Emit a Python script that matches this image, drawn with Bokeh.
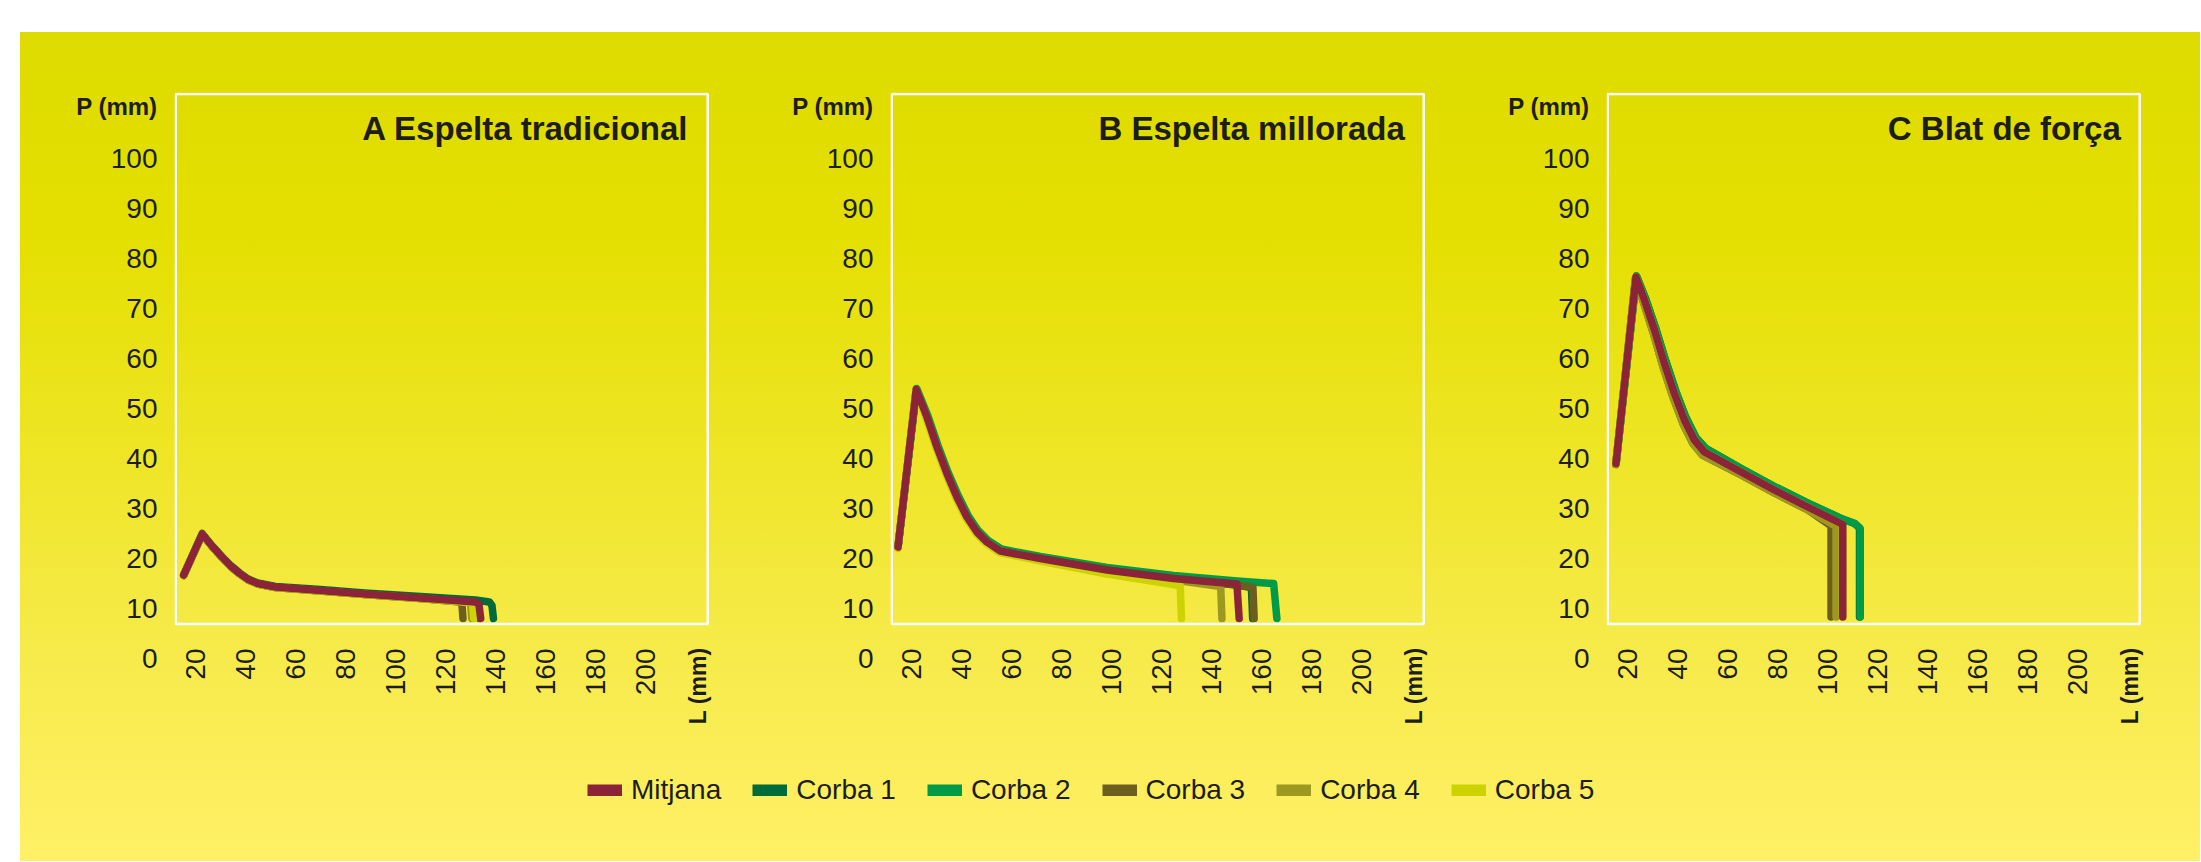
import math
from bokeh.plotting import figure
from bokeh.models import (Range1d, FixedTicker, BoxAnnotation, Legend, LegendItem, Spacer,
                          ColumnDataSource, LinearAxis, Label)
from bokeh.layouts import row, column
from bokeh.embed import file_html
from bokeh.resources import INLINE

# ---------------- data ----------------
series_names = ["Mitjana", "Corba 1", "Corba 2", "Corba 3", "Corba 4", "Corba 5"]
series_colors = ["#8B2339", "#006B3A", "#009B48", "#6B5E1F", "#9D9820", "#CCD300"]
panel_titles = ["A Espelta tradicional", "B Espelta millorada", "C Blat de força"]
x_ticks = [20, 40, 60, 80, 100, 120, 140, 160, 180, 200]
y_ticks = [0, 10, 20, 30, 40, 50, 60, 70, 80, 90, 100]
y_axis_name = "P (mm)"
x_axis_name = "L (mm)"

# Panel A - Espelta tradicional
a_mitjana_L = [15.2, 22.6, 26.5, 30.5, 34.0, 37.6, 41.0, 44.8, 51.9, 70.0, 87.7, 110.0, 132.0, 133.4, 134.1]
a_mitjana_P = [16.7, 24.9, 22.5, 20.3, 18.5, 17.0, 15.8, 15.0, 14.3, 13.6, 12.9, 12.1, 11.3, 10.8, 8.0]
a_corba1_L = [15.2, 22.6, 26.5, 30.5, 34.0, 37.6, 41.0, 44.8, 51.9, 70.0, 87.7, 110.0, 132.0, 137.6, 138.6, 139.2]
a_corba1_P = [16.8, 25.0, 22.6, 20.4, 18.6, 17.1, 15.9, 15.1, 14.4, 13.8, 13.1, 12.4, 11.7, 11.3, 10.6, 8.0]
a_corba2_L = [15.2, 22.6, 26.5, 30.5, 34.0, 37.6, 41.0, 44.8, 51.9, 70.0, 87.7, 110.0, 132.0, 133.0, 133.5]
a_corba2_P = [16.6, 24.8, 22.4, 20.2, 18.4, 16.9, 15.7, 14.9, 14.2, 13.5, 12.8, 12.0, 11.2, 10.7, 8.0]
a_corba3_L = [15.2, 22.6, 26.5, 30.5, 34.0, 37.6, 41.0, 44.8, 51.9, 70.0, 87.7, 110.0, 125.8, 126.6, 127.0]
a_corba3_P = [16.6, 24.8, 22.4, 20.2, 18.4, 16.9, 15.7, 14.9, 14.2, 13.5, 12.8, 12.0, 11.3, 10.7, 8.0]
a_corba4_L = [15.2, 22.6, 26.5, 30.5, 34.0, 37.6, 41.0, 44.8, 51.9, 70.0, 87.7, 110.0, 129.4, 130.1, 130.5]
a_corba4_P = [16.6, 24.8, 22.4, 20.2, 18.4, 16.9, 15.7, 14.9, 14.2, 13.5, 12.8, 12.0, 11.2, 10.6, 8.0]
a_corba5_L = [15.2, 22.6, 26.5, 30.5, 34.0, 37.6, 41.0, 44.8, 51.9, 70.0, 87.7, 110.0, 130.2, 130.9, 131.3]
a_corba5_P = [16.6, 24.8, 22.4, 20.2, 18.4, 16.9, 15.7, 14.9, 14.2, 13.5, 12.8, 12.0, 11.2, 10.6, 8.0]

# Panel B - Espelta millorada
b_mitjana_L = [14.5, 21.8, 26.1, 30.1, 34.1, 38.1, 42.1, 46.1, 50.1, 55.4, 71.5, 98.2, 124.8, 150.2, 151.1]
b_mitjana_P = [22.3, 53.8, 48.3, 42.3, 37.0, 32.3, 28.3, 25.3, 23.3, 21.5, 20.0, 17.7, 16.0, 14.9, 8.0]
b_corba1_L = [14.5, 21.8, 26.1, 30.1, 34.1, 38.1, 42.1, 46.1, 50.1, 55.4, 71.5, 98.2, 124.8, 150.2, 156.0, 156.5]
b_corba1_P = [22.3, 53.8, 48.3, 42.3, 37.0, 32.3, 28.3, 25.3, 23.3, 21.5, 20.0, 17.7, 15.9, 14.7, 14.2, 8.0]
b_corba2_L = [14.6, 22.0, 26.5, 30.6, 34.6, 38.6, 42.6, 46.6, 50.6, 55.9, 71.5, 98.2, 124.8, 150.2, 164.9, 166.2]
b_corba2_P = [22.5, 54.0, 48.5, 42.5, 37.2, 32.6, 28.6, 25.6, 23.6, 21.9, 20.4, 18.2, 16.6, 15.5, 15.0, 8.0]
b_corba3_L = [14.5, 21.8, 26.1, 30.1, 34.1, 38.1, 42.1, 46.1, 50.1, 55.4, 71.5, 98.2, 124.8, 150.2, 156.6, 157.1]
b_corba3_P = [22.3, 53.8, 48.3, 42.3, 37.0, 32.3, 28.3, 25.3, 23.3, 21.5, 20.0, 17.7, 15.9, 14.7, 14.2, 8.0]
b_corba4_L = [14.5, 21.8, 26.1, 30.1, 34.1, 38.1, 42.1, 46.1, 50.1, 55.4, 71.5, 98.2, 124.8, 143.7, 144.2]
b_corba4_P = [22.3, 53.8, 48.3, 42.3, 37.0, 32.3, 28.3, 25.3, 23.3, 21.5, 19.9, 17.5, 15.7, 14.4, 8.0]
b_corba5_L = [14.4, 21.6, 25.8, 29.8, 33.8, 37.8, 41.8, 45.8, 49.8, 55.0, 71.5, 98.2, 124.8, 127.5, 128.0]
b_corba5_P = [22.0, 53.6, 48.0, 42.0, 36.7, 32.0, 28.0, 25.0, 23.0, 21.2, 19.5, 16.9, 14.8, 14.5, 8.0]

# Panel C - Blat de força
c_mitjana_L = [15.3, 23.3, 26.7, 30.7, 34.7, 38.7, 42.7, 46.7, 50.7, 65.4, 78.7, 92.1, 106.1, 106.1]
c_mitjana_P = [39.0, 76.3, 71.7, 65.7, 59.0, 53.0, 47.7, 43.7, 41.3, 37.3, 33.7, 30.3, 26.8, 8.3]
c_corba1_L = [15.4, 23.5, 27.2, 31.3, 35.3, 39.3, 43.3, 47.3, 51.3, 65.4, 78.7, 92.1, 105.4, 110.8, 112.8, 112.8]
c_corba1_P = [39.2, 76.5, 71.9, 65.9, 59.4, 53.4, 48.2, 44.2, 42.0, 38.0, 34.4, 31.1, 28.0, 27.0, 26.1, 8.3]
c_corba2_L = [15.4, 23.5, 27.2, 31.3, 35.3, 39.3, 43.3, 47.3, 51.3, 65.4, 78.7, 92.1, 105.4, 111.0, 113.1, 113.1]
c_corba2_P = [39.2, 76.5, 71.9, 65.9, 59.4, 53.4, 48.2, 44.2, 42.0, 38.0, 34.4, 31.1, 28.0, 27.0, 26.0, 8.3]
c_corba3_L = [15.2, 23.1, 26.2, 30.1, 34.1, 38.1, 42.1, 46.1, 50.1, 65.4, 78.7, 92.1, 101.4, 101.4]
c_corba3_P = [38.8, 76.1, 71.4, 65.3, 58.4, 52.3, 47.0, 43.0, 40.6, 36.7, 33.1, 29.7, 26.5, 8.3]
c_corba4_L = [15.2, 23.1, 26.2, 30.1, 34.1, 38.1, 42.1, 46.1, 50.1, 65.4, 78.7, 92.1, 103.4, 103.4]
c_corba4_P = [38.8, 76.1, 71.4, 65.3, 58.4, 52.3, 47.0, 43.0, 40.6, 36.7, 33.1, 29.7, 26.4, 8.3]
c_corba5_L = [15.3, 23.3, 26.7, 30.7, 34.7, 38.7, 42.7, 46.7, 50.7, 65.4, 78.7, 92.1, 106.0, 106.0]
c_corba5_P = [39.0, 76.3, 71.7, 65.7, 59.0, 53.0, 47.7, 43.7, 41.3, 37.3, 33.7, 30.3, 26.8, 8.3]

panel_series = [
    [(a_mitjana_L, a_mitjana_P), (a_corba1_L, a_corba1_P), (a_corba2_L, a_corba2_P),
     (a_corba3_L, a_corba3_P), (a_corba4_L, a_corba4_P), (a_corba5_L, a_corba5_P)],
    [(b_mitjana_L, b_mitjana_P), (b_corba1_L, b_corba1_P), (b_corba2_L, b_corba2_P),
     (b_corba3_L, b_corba3_P), (b_corba4_L, b_corba4_P), (b_corba5_L, b_corba5_P)],
    [(c_mitjana_L, c_mitjana_P), (c_corba1_L, c_corba1_P), (c_corba2_L, c_corba2_P),
     (c_corba3_L, c_corba3_P), (c_corba4_L, c_corba4_P), (c_corba5_L, c_corba5_P)],
]

# ---------------- style ----------------
FONT = "Liberation Sans"
TXT = "#1d1d1b"
X0, X1 = 11.5, 225.7
Y0, Y1 = -0.4, 113.2
BOX_L, BOX_R, BOX_B, BOX_T = 12.0, 225.0, 6.9, 112.9
P_LABEL_AT = 110.5
L_LABEL_AT = 221


def plain_axis(ax, size, bold=False):
    ax.axis_line_color = None
    ax.major_tick_line_color = None
    ax.minor_tick_line_color = None
    ax.major_tick_out = 0
    ax.major_tick_in = 0
    ax.minor_tick_out = 0
    ax.minor_tick_in = 0
    ax.major_label_text_font = FONT
    ax.major_label_text_font_size = size
    ax.major_label_text_color = TXT
    if bold:
        ax.major_label_text_font_style = "bold"


def make_panel(idx):
    p = figure(frame_width=535, frame_height=568,
               x_range=Range1d(X0, X1), y_range=Range1d(Y0, Y1),
               min_border_left=154, min_border_right=27,
               min_border_top=60, min_border_bottom=79,
               output_backend="svg", toolbar_location=None,
               background_fill_color=None, border_fill_color=None,
               outline_line_color=None)
    p.grid.visible = False
    plain_axis(p.xaxis[0], "28px")
    plain_axis(p.yaxis[0], "28px")
    p.xaxis[0].ticker = FixedTicker(ticks=x_ticks)
    p.yaxis[0].ticker = FixedTicker(ticks=y_ticks)
    p.xaxis[0].major_label_orientation = math.pi / 2
    p.xaxis[0].major_label_standoff = -12
    p.yaxis[0].major_label_standoff = 17

    # axis names: extra axes stacked outside the tick-label axes, pulled back in
    yname = LinearAxis(ticker=FixedTicker(ticks=[P_LABEL_AT]),
                       major_label_overrides={P_LABEL_AT: y_axis_name})
    plain_axis(yname, "24px", bold=True)
    yname.major_label_standoff = -50
    p.add_layout(yname, "left")

    xname = LinearAxis(ticker=FixedTicker(ticks=[L_LABEL_AT]),
                       major_label_overrides={L_LABEL_AT: x_axis_name})
    plain_axis(xname, "23px", bold=True)
    xname.major_label_orientation = math.pi / 2
    xname.major_label_standoff = -51
    p.add_layout(xname, "below")

    p.add_layout(BoxAnnotation(left=BOX_L, right=BOX_R, bottom=BOX_B, top=BOX_T,
                               fill_alpha=0, line_color="white", line_alpha=1.0,
                               line_width=2.5))

    series = panel_series[idx]
    for k in [1, 2, 3, 4, 5, 0]:
        L, P = series[k]
        src = ColumnDataSource(data=dict(L=L, P=P))
        p.line("L", "P", source=src, line_color=series_colors[k], line_width=7.5,
               line_cap="round", line_join="round")

    p.add_layout(Label(x=BOX_R, y=106.0, x_offset=-19, text=panel_titles[idx],
                       text_align="right", text_baseline="middle",
                       text_font=FONT, text_font_style="bold",
                       text_font_size="33px", text_color=TXT))
    return p


panels = [make_panel(i) for i in range(3)]

# legend strip (its lines use panel A data but lie outside its 0..1 ranges)
leg = figure(width=2148, height=100, x_range=Range1d(0, 1), y_range=Range1d(0, 1),
             output_backend="svg", toolbar_location=None, min_border=0,
             x_axis_type=None, y_axis_type=None, outline_line_color=None,
             background_fill_color=None, border_fill_color=None)
leg.grid.visible = False
items = []
for k, (name, col) in enumerate(zip(series_names, series_colors)):
    L, P = panel_series[0][k]
    r = leg.line(x=L, y=P, line_color=col, line_width=12, line_cap="butt")
    items.append(LegendItem(label=name, renderers=[r]))
legend = Legend(items=items, orientation="horizontal", location=(567, 33),
                glyph_width=35, glyph_height=12, label_standoff=9, spacing=31,
                padding=0, margin=0, border_line_color=None,
                background_fill_alpha=0,
                label_text_font=FONT, label_text_font_size="28px",
                label_text_color=TXT)
leg.add_layout(legend)

grad = ("linear-gradient(to bottom, #DEDB00 0%, #E4DF00 24%, #EEE524 50%, "
        "#F6EA48 73%, #FFF066 100%)")
yellow = column(row(*panels, Spacer(width=32, height=10)), leg, Spacer(width=10, height=22),
                styles={"background": grad})
layout = column(Spacer(width=10, height=32), row(Spacer(width=20, height=10), yellow))

open("out.html", "w").write(file_html(layout, INLINE))
